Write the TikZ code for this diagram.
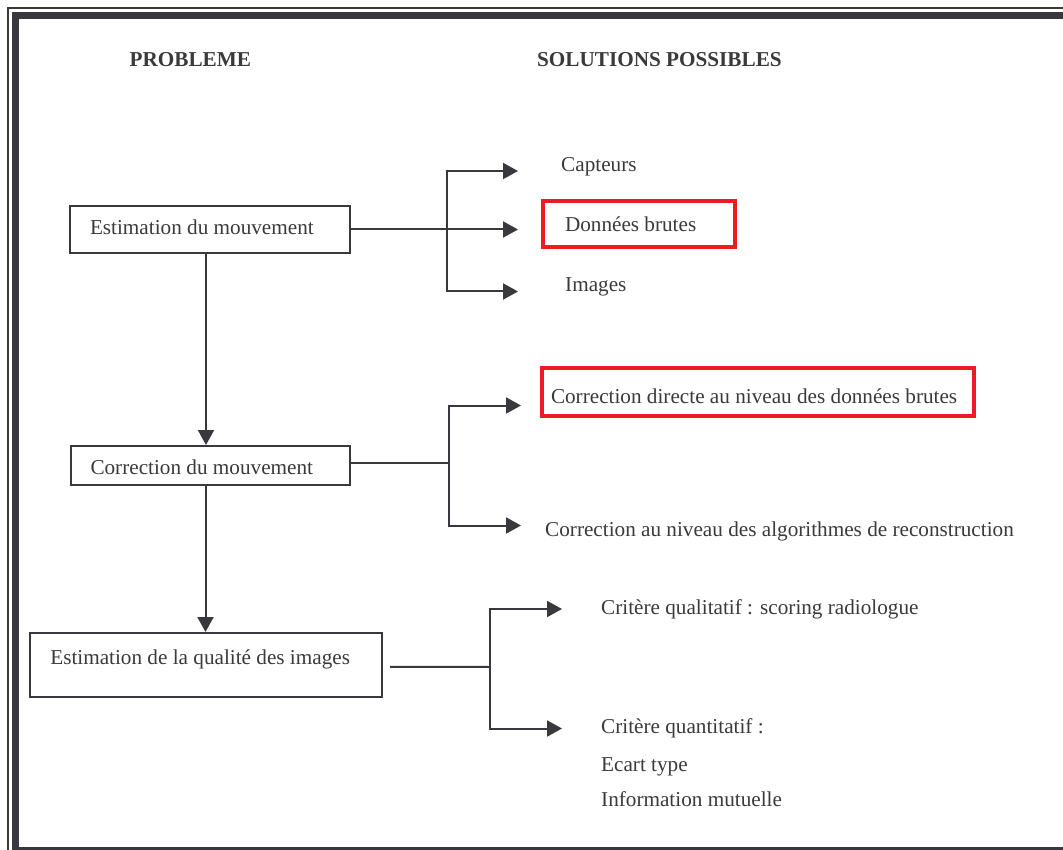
\documentclass[tikz,border=0pt]{standalone}
\usepackage{fontspec}
\setmainfont{Liberation Serif}
\usetikzlibrary{arrows.meta}
\definecolor{ink}{RGB}{56,56,61}
\definecolor{txt}{RGB}{58,58,60}
\definecolor{hl}{RGB}{237,28,36}
\begin{document}
\begin{tikzpicture}[x=1pt,y=-1pt,
  every node/.style={font=\fontsize{21.2}{25}\selectfont, text=txt},
  lbl/.style={anchor=base west, inner sep=0pt},
  hdr/.style={lbl, font=\fontsize{21.2}{25}\selectfont\bfseries},
  pbox/.style={draw=ink, line width=2pt, anchor=base west, inner ysep=0pt},
  rbox/.style={draw=hl, line width=4pt, anchor=base west, inner ysep=0pt},
  conn/.style={draw=ink, line width=2pt},
  arr/.style={conn, -{Triangle[length=15pt,width=16pt]}},
  frame/.style={draw=ink}
]
\useasboundingbox (0,0) rectangle (1063,850);
\clip (0,0) rectangle (1063,850);
\fill[white] (0,0) rectangle (1063,850);

% double frame
\draw[frame, line width=2pt] (8,870) -- (8,8) -- (1075,8);
\draw[frame, line width=7pt] (1075,850.5) -- (15.5,850.5) -- (15.5,15.5) -- (1075,15.5);

% headers
\node[hdr] (h1) at (129.5,67) {PROBLEME};
\node[hdr] (h2) at (537,67) {SOLUTIONS POSSIBLES};

% problem boxes
\node[pbox, inner xsep=20pt, text height=29pt, text depth=18pt] (b1) at (69,235) {\makebox[240pt][l]{Estimation du mouvement}};
\node[pbox, inner xsep=19.5pt, text height=28pt, text depth=11pt] (b2) at (70,474) {\makebox[240pt][l]{Correction du mouvement}};
\node[pbox, inner xsep=20pt, text height=31pt, text depth=32.7pt] (b3) at (29.3,664) {\makebox[311.7pt][l]{Estimation de la qualité des images}};

% vertical flow
\draw[arr] ([xshift=-4pt]b1.south) -- ([xshift=-4pt]b1.south |- b2.north);
\draw[arr] ([xshift=-5pt]b2.south) -- ([xshift=-5pt]b2.south |- b3.north);

% solutions, branch 1
\node[lbl] (s1a) at (561,172) {Capteurs};
\node[rbox, inner xsep=22pt, text height=31pt, text depth=15pt] (r1) at (541,232) {\makebox[148pt][l]{Données brutes}};
\node[lbl] (s1c) at (565,292) {Images};
\coordinate (j1) at (447,229.5);
\coordinate (c1) at (518,171);
\coordinate (c2) at (518,229.5);
\coordinate (c3) at (518,291.5);
\draw[conn] (b1.east) -- (j1);
\draw[arr] (j1) |- (c1);
\draw[arr] (j1) -- (c2);
\draw[arr] (j1) |- (c3);

% solutions, branch 2
\node[rbox, inner xsep=9pt, text height=35pt, text depth=13pt] (r2) at (540,403) {\makebox[414pt][l]{Correction directe au niveau des données brutes}};
\node[lbl] (s2b) at (545,536.5) {Correction au niveau des algorithmes de reconstruction};
\coordinate (j2) at (449,463);
\coordinate (d1) at (521,405.5);
\coordinate (d2) at (521,525.5);
\draw[conn] ([yshift=2.5pt]b2.east) -- (j2);
\draw[arr] (j2) |- (d1);
\draw[arr] (j2) |- (d2);

% solutions, branch 3
\node[lbl] (s3a) at (601,614) {Critère qualitatif : scoring radiologue};
\node[lbl] (s3b) at (601,733) {Critère quantitatif :};
\node[lbl] (s3c) at (601,771.5) {Ecart type};
\node[lbl] (s3d) at (601,806) {Information mutuelle};
\coordinate (j3) at (490,667);
\coordinate (e1) at (562,609);
\coordinate (e2) at (562,728.5);
\draw[conn] ([xshift=7pt,yshift=-2pt]b3.east) -- (j3);
\draw[arr] (j3) |- (e1);
\draw[arr] (j3) |- (e2);
\end{tikzpicture}
\end{document}
